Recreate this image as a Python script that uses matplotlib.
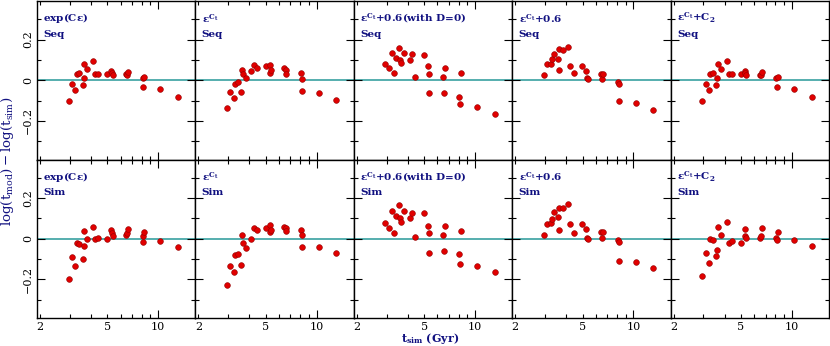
import matplotlib
matplotlib.use("Agg")
import matplotlib.pyplot as plt
import numpy as np
from matplotlib.ticker import FixedLocator, MultipleLocator, FuncFormatter, NullFormatter

plt.rcParams['font.family'] = 'DejaVu Serif'
plt.rcParams['mathtext.fontset'] = 'custom'
plt.rcParams['mathtext.rm'] = 'DejaVu Serif:bold'
plt.rcParams['mathtext.it'] = 'DejaVu Serif:bold'
plt.rcParams['mathtext.bf'] = 'DejaVu Serif:bold'

# simulated ages (Gyr), shared by every panel
t_sim = [2.95, 3.09, 3.24, 3.30, 3.41, 3.57, 3.62, 3.65, 3.81, 4.12, 4.24, 4.43,
         4.99, 5.27, 5.31, 5.37, 6.45, 6.55, 6.62, 8.08, 8.17, 8.24, 10.3, 13.1]

# top row: Seq
exp_seq = [-0.102, -0.016, -0.050, 0.033, 0.034, -0.024, 0.010, 0.081, 0.054, 0.096, 0.033, 0.029,
           0.029, 0.045, 0.036, 0.024, 0.029, 0.026, 0.040, 0.010, -0.034, 0.015, -0.044, -0.080]
ect_seq = [-0.137, -0.060, -0.086, -0.018, -0.010, -0.059, 0.049, 0.031, 0.011, 0.045, 0.073, 0.059,
           0.068, 0.036, 0.073, 0.049, 0.059, 0.050, 0.029, 0.034, -0.052, 0.005, -0.063, -0.098]
ectd0_seq = [0.081, 0.060, 0.133, 0.036, 0.111, 0.161, 0.102, 0.083, 0.133, 0.098, 0.128, 0.016,
             0.125, 0.068, 0.029, -0.065, 0.015, -0.062, 0.060, -0.080, -0.119, 0.038, -0.130, -0.164]
ect06_seq = [0.026, 0.078, 0.078, 0.104, 0.130, 0.104, 0.049, 0.153, 0.150, 0.166, 0.072, 0.034,
             0.068, 0.047, 0.011, 0.006, 0.033, 0.006, 0.030, -0.010, -0.101, -0.020, -0.112, -0.148]
ectc2_seq = [-0.102, -0.018, -0.050, 0.033, 0.034, -0.024, 0.010, 0.081, 0.054, 0.096, 0.033, 0.029,
             0.029, 0.045, 0.036, 0.024, 0.028, 0.024, 0.040, 0.010, -0.034, 0.015, -0.044, -0.080]

# bottom row: Sim
exp_sim = [-0.197, -0.089, -0.134, -0.023, -0.026, -0.100, -0.038, 0.038, -0.001, 0.058, -0.003, 0.005,
           -0.001, 0.044, 0.028, 0.013, 0.018, 0.028, 0.049, 0.015, -0.015, 0.031, -0.013, -0.042]
ect_sim = [-0.227, -0.134, -0.164, -0.082, -0.074, -0.131, 0.018, -0.021, -0.046, -0.001, 0.051, 0.043,
           0.054, 0.033, 0.067, 0.041, 0.058, 0.051, 0.038, 0.041, -0.041, 0.020, -0.041, -0.070]
ectd0_sim = [0.077, 0.054, 0.135, 0.030, 0.112, 0.164, 0.100, 0.082, 0.135, 0.100, 0.128, 0.010,
             0.128, 0.061, 0.030, -0.072, 0.017, -0.062, 0.061, -0.077, -0.126, 0.039, -0.133, -0.164]
ect06_sim = [0.020, 0.072, 0.079, 0.099, 0.130, 0.108, 0.041, 0.153, 0.153, 0.171, 0.071, 0.027,
             0.071, 0.046, 0.005, -0.003, 0.035, 0.005, 0.032, -0.008, -0.108, -0.018, -0.115, -0.146]
ectc2_sim = [-0.182, -0.069, -0.120, -0.001, -0.008, -0.087, -0.056, 0.058, 0.020, 0.081, -0.023, -0.011,
             -0.021, 0.046, 0.013, 0.002, 0.003, 0.015, 0.051, 0.003, -0.008, 0.033, -0.008, -0.037]

models = [r'exp(C$\epsilon$)', r'$\varepsilon^{C_t}$', r'$\varepsilon^{C_t}$+0.6(with D=0)',
          r'$\varepsilon^{C_t}$+0.6', r'$\varepsilon^{C_t}$+C$_2$']
rows = ['Seq', 'Sim']
data = [[exp_seq, ect_seq, ectd0_seq, ect06_seq, ectc2_seq],
        [exp_sim, ect_sim, ectd0_sim, ect06_sim, ectc2_sim]]

navy = '#101080'
W, H = 830, 346
fig = plt.figure(figsize=(W / 100, H / 100), dpi=100)

x0, x1 = 37, 829
pw = (x1 - x0) / 5
ytop, ymid, ybot = 1, 159.5, 318

for r in range(2):
    for c in range(5):
        top = ytop if r == 0 else ymid
        bot = ymid if r == 0 else ybot
        ax = fig.add_axes([(x0 + c * pw) / W, 1 - bot / H, pw / W, (bot - top) / H])
        ax.set_xscale('log')
        ax.set_xlim(1.919, 16.6)
        ax.set_ylim(-0.39, 0.39)
        ax.axhline(0, color='#48a8a8', lw=1.3, zorder=1)
        ax.scatter(t_sim, data[r][c], s=17, color='#e00000', edgecolors='#900000',
                   linewidths=0.4, zorder=3)

        ax.xaxis.set_major_locator(FixedLocator([10]))
        ax.xaxis.set_minor_locator(FixedLocator([2, 3, 4, 5, 6, 7, 8, 9]))
        ax.yaxis.set_major_locator(MultipleLocator(0.2))
        ax.yaxis.set_minor_locator(MultipleLocator(0.1))
        ax.tick_params(which='both', direction='in', top=True, right=True, width=0.8)
        ax.tick_params(which='major', length=6, labelsize=8, pad=3)
        ax.tick_params(which='minor', length=3, labelsize=8, pad=3)
        if r == 1:
            ax.xaxis.set_major_formatter(FuncFormatter(lambda v, p: '%g' % v))
            ax.xaxis.set_minor_formatter(FuncFormatter(lambda v, p: '%g' % v if v in (2, 5) else ''))
        else:
            ax.xaxis.set_major_formatter(NullFormatter())
            ax.xaxis.set_minor_formatter(NullFormatter())
        if c == 0:
            ax.yaxis.set_major_formatter(FuncFormatter(
                lambda v, p: '0' if abs(v) < 1e-9 else ('%.1f' % v).replace('-', '\u2212')))
            for lab in ax.get_yticklabels():
                lab.set_rotation(90)
                lab.set_va('center')
        else:
            ax.set_yticklabels([])
        for sp in ax.spines.values():
            sp.set_linewidth(1.0)

        ax.text(0.04, 0.89, models[c], transform=ax.transAxes, color=navy,
                fontsize=7.5, fontweight='bold', va='center', ha='left')
        ax.text(0.04, 0.79, rows[r], transform=ax.transAxes, color=navy,
                fontsize=7.5, fontweight='bold', va='center', ha='left')

fig.text(430 / W, 1 - 339 / H, r'$\mathregular{t_{sim}}$ (Gyr)', color=navy,
         fontsize=8, fontweight='bold', ha='center', va='center')
fig.text(8 / W, 1 - 161 / H, r'$\mathregular{log(t_{mod})-log(t_{sim})}$', color=navy,
         fontsize=9.6, rotation=90, ha='center', va='center')

fig.savefig('out.png', dpi=100)
